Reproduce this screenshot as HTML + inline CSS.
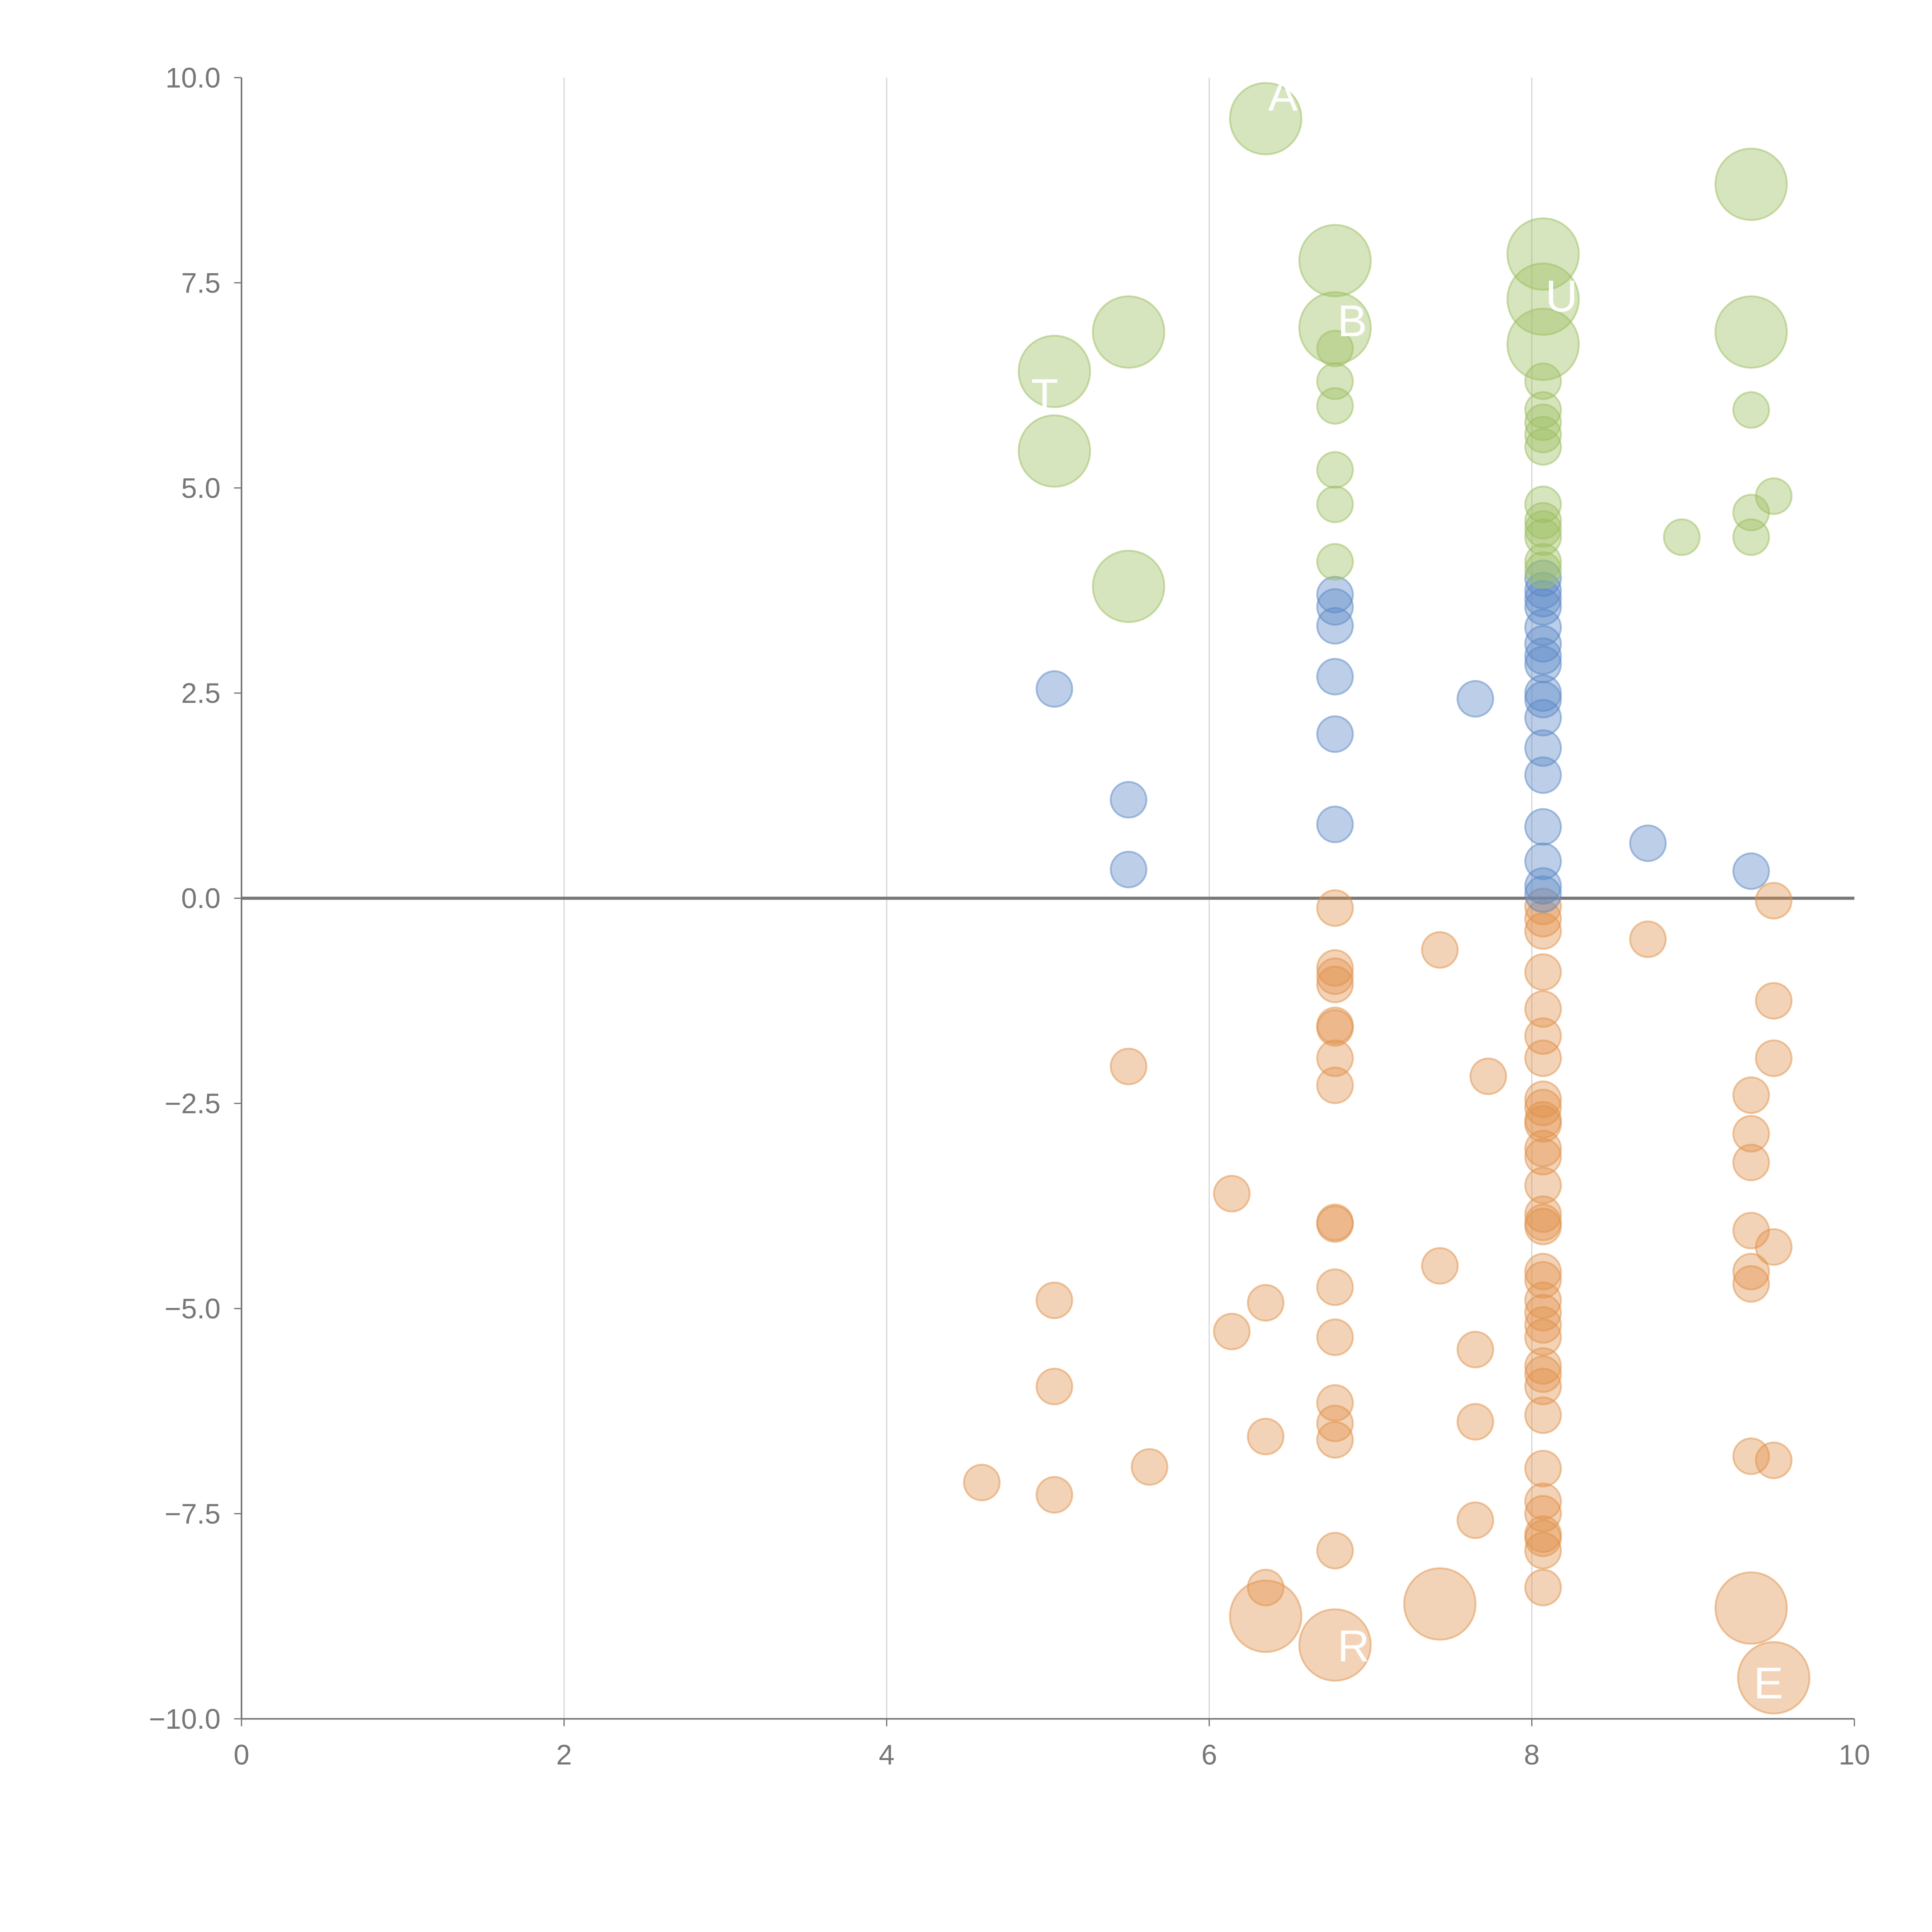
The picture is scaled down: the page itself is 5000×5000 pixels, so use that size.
<!DOCTYPE html>
<html><head><meta charset="utf-8"><style>html,body{margin:0;padding:0;background:#fff}svg{display:block}</style></head>
<body>
<svg id="chart" width="5000" height="5000" viewBox="0 0 1568 1568" xmlns="http://www.w3.org/2000/svg" font-family="Liberation Sans, sans-serif">
<g id="grid"></g>
<g id="axes"></g>
<g id="marks"></g>
<g id="labels"></g>
</svg>
<script>
const xTicks=[0,2,4,6,8,10];
const yTicks=[10,7.5,5,2.5,0,-2.5,-5,-7.5,-10];
const yTickLabels=["10.0","7.5","5.0","2.5","0.0","\u22122.5","\u22125.0","\u22127.5","\u221210.0"];
const greenX=[6.35,6.78,6.78,8.07,8.07,8.07,9.36,9.36,5.04,5.04,5.5,5.5,6.78,6.78,6.78,6.78,6.78,6.78,8.07,8.07,8.07,8.07,8.07,8.07,8.07,8.07,8.07,8.07,8.07,9.36,9.36,9.36,9.5,8.93];
const greenY=[9.5,7.77,6.95,7.85,7.3,6.75,8.7,6.9,6.42,5.45,6.9,3.8,6.7,6.3,6.0,5.22,4.8,4.1,6.3,5.95,5.8,5.65,5.5,4.8,4.6,4.5,4.4,4.1,4.0,5.95,4.7,4.4,4.9,4.4];
const greenBig=[1,1,1,1,1,1,1,1,1,1,1,1,0,0,0,0,0,0,0,0,0,0,0,0,0,0,0,0,0,0,0,0,0,0];
const blueX=[5.04,5.5,5.5,6.78,6.78,6.78,6.78,6.78,6.78,7.65,8.07,8.07,8.07,8.07,8.07,8.07,8.07,8.07,8.07,8.07,8.07,8.07,8.07,8.07,8.07,8.07,8.07,8.72,9.36];
const blueY=[2.55,1.2,0.35,3.7,3.55,3.32,2.7,2.0,0.9,2.43,3.9,3.75,3.65,3.55,3.3,3.1,2.95,2.85,2.5,2.42,2.2,1.83,1.5,0.87,0.45,0.15,0.05,0.67,0.33];
const orangeX=[6.78,6.78,6.78,6.78,6.78,6.78,6.78,6.78,6.78,6.78,6.78,6.78,6.78,6.78,6.78,6.78,7.43,7.43,7.73,7.65,7.65,7.65,8.72,5.5,6.14,6.14,6.35,6.35,6.35,5.04,5.04,5.04,4.59,5.63,
8.07,8.07,8.07,8.07,8.07,8.07,8.07,8.07,8.07,8.07,8.07,8.07,8.07,8.07,8.07,8.07,8.07,8.07,8.07,8.07,8.07,8.07,8.07,8.07,8.07,8.07,8.07,8.07,8.07,8.07,8.07,8.07,8.07,8.07,
9.36,9.36,9.36,9.36,9.36,9.36,9.36,9.5,9.5,9.5,9.5,9.5,6.35,6.78,7.43,9.36,9.5];
const orangeY=[-0.12,-0.85,-0.95,-1.05,-1.55,-1.58,-1.95,-2.28,-3.95,-3.97,-4.74,-5.35,-6.15,-6.4,-6.6,-7.95,-0.63,-4.48,-2.17,-5.5,-6.38,-7.58,-0.5,-2.05,-3.6,-5.28,-4.93,-6.56,-8.4,-4.9,-5.95,-7.27,-7.12,-6.93,
-0.1,-0.25,-0.4,-0.9,-1.35,-1.68,-1.95,-2.45,-2.55,-2.7,-2.75,-3.05,-3.15,-3.5,-3.85,-3.95,-4.0,-4.55,-4.65,-4.9,-5.05,-5.2,-5.35,-5.7,-5.8,-5.95,-6.3,-6.95,-7.35,-7.5,-7.75,-7.8,-7.95,-8.4,
-2.4,-2.87,-3.22,-4.05,-4.55,-4.7,-6.8,-0.03,-1.25,-1.95,-4.25,-6.85,-8.75,-9.1,-8.6,-8.65,-9.5];
const orangeBig=orangeY.map((v,i)=>i>=orangeY.length-5?1:0);
const labelText=["A","B","U","T","R","E"];
const labelX=[6.35,6.78,8.07,4.88,6.78,9.36];
const labelY=[9.75,7.0,7.3,6.1,-9.15,-9.6];

const NS="http://www.w3.org/2000/svg";
const X0=196,X1=1505,Y0=63,Y1=1395;
const sx=v=>X0+(v-0)/(10-0)*(X1-X0);
const sy=v=>Y0+(10-v)/20*(Y1-Y0);
function mk(tag,attrs,parent){const e=document.createElementNS(NS,tag);for(const k in attrs)e.setAttribute(k,attrs[k]);parent.appendChild(e);return e;}
const grid=document.getElementById('grid'),axes=document.getElementById('axes'),marks=document.getElementById('marks'),labels=document.getElementById('labels');
xTicks.forEach(t=>{
  if(t>0&&t<10){const g=mk('line',{x1:sx(t),x2:sx(t),y1:Y0,y2:Y1,stroke:'#d8d8d8','stroke-width':1},grid);
  
  }
  const tk=mk('line',{x1:sx(t),x2:sx(t),y1:Y1,y2:Y1+6,stroke:'#777','stroke-width':1},axes);
  
  
  const tx=mk('text',{x:sx(t),y:Y1+37,'text-anchor':'middle','font-size':23,fill:'#777'},axes);
  tx.textContent=t;
  
  
});
yTicks.forEach((t,i)=>{
  const tk=mk('line',{x1:X0-6,x2:X0,y1:sy(t),y2:sy(t),stroke:'#777','stroke-width':1},axes);
  
  
  const tx=mk('text',{x:X0-17,y:sy(t)+8,'text-anchor':'end','font-size':23,fill:'#777'},axes);
  tx.textContent=yTickLabels[i];
  
  
});
let a=mk('line',{x1:X0,x2:X0,y1:Y0,y2:Y1,stroke:'#777','stroke-width':1.3},axes);


a=mk('line',{x1:X0,x2:X1,y1:Y1,y2:Y1,stroke:'#777','stroke-width':1.3},axes);


a=mk('line',{x1:X0,x2:X1,y1:sy(0),y2:sy(0),stroke:'#777','stroke-width':2.5},axes);


function series(xs,ys,big,fill,stroke,name){
  xs.forEach((x,i)=>{
    const c=mk('circle',{cx:sx(x),cy:sy(ys[i]),r:big&&big[i]?29:14.5,fill:fill,'fill-opacity':0.4,stroke:stroke,'stroke-opacity':0.5,'stroke-width':1.5},marks);
    
    
  });
}
series(orangeX,orangeY,orangeBig,'#e0914a','#e0914a','bubble-orange');
series(blueX,blueY,null,'#5b87c5','#5b87c5','bubble-blue');
series(greenX,greenY,greenBig,'#9cbe5e','#9cbe5e','bubble-green');
labelText.forEach((s,i)=>{
  const t=mk('text',{x:sx(labelX[i])+2,y:sy(labelY[i])+10,'font-size':36,fill:'#fff'},labels);
  t.textContent=s;
  
  
});
</script>
</body></html>
